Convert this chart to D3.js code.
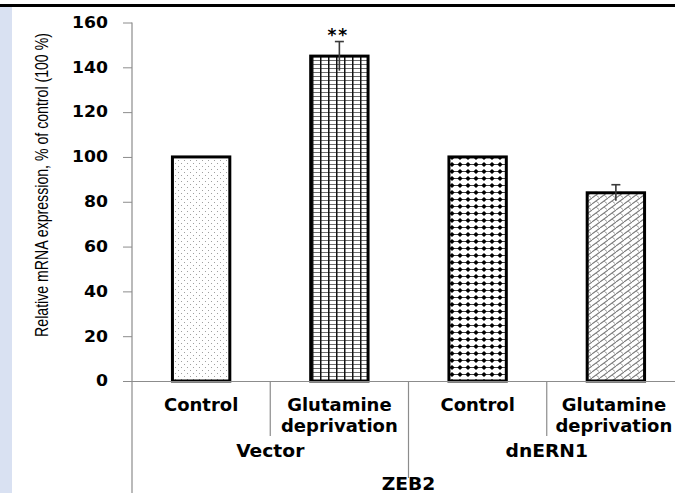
<!DOCTYPE html>
<html>
<head>
<meta charset="utf-8">
<script src="https://cdn.jsdelivr.net/npm/d3@7/dist/d3.min.js"></script>
<style>
  html, body { margin: 0; padding: 0; background: #ffffff; }
  svg { display: block; }
</style>
</head>
<body>
<script>
// ZEB2 expression: vector vs dnERN1 cells, control vs glutamine deprivation
const groups = ["Vector", "dnERN1"];
const conditions = ["Control", "Glutamine deprivation"];
const categories = ["Vector|Control", "Vector|Glutamine deprivation", "dnERN1|Control", "dnERN1|Glutamine deprivation"];
const values = [100, 145, 100, 84];
const errors = [0, 6.5, 0, 3.6];
const significance = ["", "**", "", ""];
const yTicks = [0, 20, 40, 60, 80, 100, 120, 140, 160];
const geneLabel = "ZEB2";
const yTitle = "Relative mRNA expression, % of control (100 %)";
const fills = ["url(#pDots)", "url(#pGrid)", "url(#pDiamond)", "url(#pBrick)"];

const W = 675, H = 493;
const svg = d3.select("body").append("svg").attr("width", W).attr("height", H);

// page frame: top rule and left tinted strip
svg.append("rect").attr("x", 0).attr("y", 0).attr("width", W).attr("height", H).attr("fill", "#ffffff");
svg.append("rect").attr("x", 0).attr("y", 7).attr("width", 12).attr("height", H - 7).attr("fill", "#d9e1f2");
svg.append("rect").attr("x", 0).attr("y", 4).attr("width", W).attr("height", 3).attr("fill", "#000000");

// fill patterns
const defs = svg.append("defs");
const pDots = defs.append("pattern").attr("id", "pDots").attr("patternUnits", "userSpaceOnUse")
  .attr("width", 6).attr("height", 6);
pDots.append("rect").attr("width", 6).attr("height", 6).attr("fill", "#ffffff");
pDots.append("rect").attr("x", 1).attr("y", 1).attr("width", 1).attr("height", 1).attr("fill", "#a0a0a0");
pDots.append("rect").attr("x", 4).attr("y", 4).attr("width", 1).attr("height", 1).attr("fill", "#a0a0a0");

const pGrid = defs.append("pattern").attr("id", "pGrid").attr("patternUnits", "userSpaceOnUse")
  .attr("width", 8).attr("height", 4);
pGrid.append("rect").attr("width", 8).attr("height", 4).attr("fill", "#ffffff");
pGrid.append("rect").attr("x", 0).attr("y", 0).attr("width", 8).attr("height", 1).attr("fill", "#6e6e6e");
pGrid.append("rect").attr("x", 0).attr("y", 0).attr("width", 1.5).attr("height", 4).attr("fill", "#111111");

const pDiamond = defs.append("pattern").attr("id", "pDiamond").attr("patternUnits", "userSpaceOnUse")
  .attr("width", 8).attr("height", 7);
pDiamond.append("rect").attr("width", 8).attr("height", 7).attr("fill", "#ffffff");
pDiamond.append("rect").attr("x", 0).attr("y", 3).attr("width", 8).attr("height", 1).attr("fill", "#444444");
pDiamond.append("path").attr("d", "M4,1 L6.6,3.5 L4,6 L1.4,3.5 Z").attr("fill", "#000000");

const pBrick = defs.append("pattern").attr("id", "pBrick").attr("patternUnits", "userSpaceOnUse")
  .attr("width", 8).attr("height", 6);
pBrick.append("rect").attr("width", 8).attr("height", 6).attr("fill", "#ffffff");
pBrick.append("path").attr("d", "M0,6 L8,0 M-2,1.5 L0,0 M8,6 L10,4.5").attr("stroke", "#7a7a7a").attr("stroke-width", 1.1).attr("fill", "none");
pBrick.append("path").attr("d", "M4,3 L7,5.5").attr("stroke", "#9a9a9a").attr("stroke-width", 1).attr("fill", "none");

// scales
const axisX = 132, baseY = 381;
const x = d3.scaleBand().domain(categories).range([axisX, 685]).paddingInner(0.585).paddingOuter(0.2925);
const y = d3.scaleLinear().domain([0, 160]).range([baseY, 22.5]);
const step = x.step();
const axisColor = "#8c8c8c";

// bars
const bars = svg.append("g");
bars.selectAll("rect").data(values).join("rect")
  .attr("x", (d, i) => x(categories[i]))
  .attr("y", d => y(d))
  .attr("width", x.bandwidth())
  .attr("height", d => y(0) - y(d))
  .attr("fill", (d, i) => fills[i])
  .attr("stroke", "#000000")
  .attr("stroke-width", 3);

// error bars
const eb = svg.append("g").attr("stroke", "#3a3a3a").attr("stroke-width", 1.6);
values.forEach((v, i) => {
  if (!errors[i]) return;
  const cx = x(categories[i]) + x.bandwidth() / 2;
  eb.append("line").attr("x1", cx).attr("x2", cx).attr("y1", y(v - errors[i])).attr("y2", y(v + errors[i]));
  eb.append("line").attr("x1", cx - 4.5).attr("x2", cx + 4.5).attr("y1", y(v + errors[i])).attr("y2", y(v + errors[i]));
});

// significance markers
svg.append("g").selectAll("text").data(significance).join("text")
  .attr("x", (d, i) => x(categories[i]) + x.bandwidth() / 2 - 1)
  .attr("y", (d, i) => y(values[i] + errors[i]) - 1)
  .attr("text-anchor", "middle")
  .attr("font-family", "DejaVu Sans, sans-serif")
  .attr("font-weight", "bold")
  .attr("font-size", 17)
  .attr("letter-spacing", 2)
  .attr("fill", "#000000")
  .text(d => d);

// y axis
const yAxis = svg.append("g").attr("transform", `translate(${axisX},0)`)
  .call(d3.axisLeft(y).tickValues(yTicks).tickSize(9).tickPadding(15).tickSizeOuter(0));
yAxis.select(".domain").remove();
yAxis.selectAll(".tick line").attr("stroke", axisColor);
yAxis.selectAll(".tick text")
  .attr("font-family", "DejaVu Sans, sans-serif")
  .attr("font-weight", "bold")
  .attr("font-size", 15)
  .attr("fill", "#000000")
  .attr("x", null)
  .attr("transform", "translate(-24,0) scale(1.15,1)");

// axis lines
svg.append("line").attr("x1", axisX).attr("x2", axisX).attr("y1", y(160)).attr("y2", H)
  .attr("stroke", axisColor).attr("stroke-width", 1.2);
svg.append("line").attr("x1", axisX - 9).attr("x2", W).attr("y1", baseY + 0.5).attr("y2", baseY + 0.5)
  .attr("stroke", axisColor).attr("stroke-width", 1.2);

// category dividers
const dividers = svg.append("g").attr("stroke", axisColor).attr("stroke-width", 1.2);
categories.forEach((c, i) => {
  if (i === 0) return;
  const xd = x(c) - (step - x.bandwidth()) / 2;
  dividers.append("line").attr("x1", xd).attr("x2", xd).attr("y1", baseY).attr("y2", i % 2 === 0 ? 478 : 436);
});

// category labels
function boldLabel(g, text, cx, by, sx) {
  g.append("text")
    .attr("transform", `translate(${cx},${by}) scale(${sx},1)`)
    .attr("text-anchor", "middle")
    .attr("font-family", "DejaVu Sans, sans-serif")
    .attr("font-weight", "bold")
    .attr("font-size", 17)
    .attr("fill", "#000000")
    .text(text);
}
const labels = svg.append("g");
categories.forEach((c, i) => {
  const cx = x(c) + x.bandwidth() / 2 - (i === 3 ? 2 : 0);
  const words = conditions[i % 2].split(" ");
  words.forEach((w, k) => boldLabel(labels, w, cx, 411 + k * 21, 1.06));
});
groups.forEach((g, gi) => {
  const cx = (x(categories[gi * 2]) + x(categories[gi * 2 + 1]) + x.bandwidth()) / 2;
  boldLabel(labels, g, cx, 457, 1.1);
});
boldLabel(labels, geneLabel, (x(categories[0]) + x(categories[3]) + x.bandwidth()) / 2, 490, 1.1);

// y axis title: condensed along its baseline to fit beside the axis
const title = svg.append("text")
  .attr("text-anchor", "middle")
  .attr("font-family", "Liberation Sans, Arial, sans-serif")
  .attr("font-size", 19)
  .attr("fill", "#000000")
  .text(yTitle);
const natural = title.node().getComputedTextLength();
title.attr("transform", `translate(48,185) rotate(-90) scale(${304 / natural},1)`);
</script>
</body>
</html>
